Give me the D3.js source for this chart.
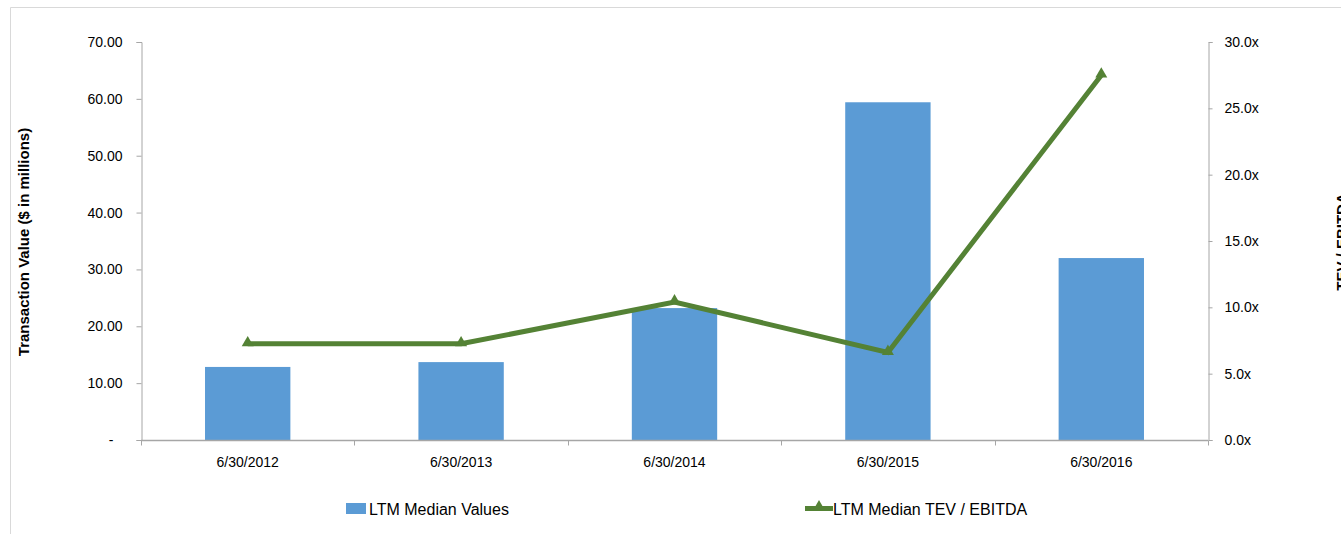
<!DOCTYPE html>
<html>
<head>
<meta charset="utf-8">
<script src="https://cdn.jsdelivr.net/npm/d3@7"></script>
<style>
  html, body { margin: 0; padding: 0; background: #fff; }
  svg { display: block; font-family: "Liberation Sans", Arial, sans-serif; }
</style>
</head>
<body>
<svg id="chart" width="1341" height="534"></svg>
<script>
// Period labels (LTM as of each date)
const categories = ["6/30/2012", "6/30/2013", "6/30/2014", "6/30/2015", "6/30/2016"];
// LTM median transaction values, $ millions (left axis)
const medianValues = [12.85, 13.7, 23.2, 59.4, 32.0];
// LTM median TEV / EBITDA multiples (right axis)
const tevEbitda = [7.25, 7.25, 10.4, 6.6, 27.5];
// Axis ticks
const leftTicks = [0, 10, 20, 30, 40, 50, 60, 70];
const rightTicks = [0, 5, 10, 15, 20, 25, 30];
const seriesNames = ["LTM Median Values", "LTM Median TEV / EBITDA"];

const barColor = "#5b9bd5";
const lineColor = "#548235";
const axisColor = "#a6a6a6";

const svg = d3.select("#chart");

// Frame lines of the chart area
svg.append("line").attr("x1", 10.5).attr("y1", 7.5).attr("x2", 1341).attr("y2", 7.5)
  .attr("stroke", "#d9d9d9");
svg.append("line").attr("x1", 10.5).attr("y1", 7.5).attr("x2", 10.5).attr("y2", 534)
  .attr("stroke", "#d9d9d9");

const plot = { left: 141, right: 1208, top: 42, bottom: 440 };

const x = d3.scaleBand().domain(categories)
  .range([plot.left, plot.right]).paddingInner(0.6).paddingOuter(0.3);
const yL = d3.scaleLinear().domain([0, 70]).range([plot.bottom, plot.top]);
const yR = d3.scaleLinear().domain([0, 30]).range([plot.bottom, plot.top]);

// Bars
svg.append("g").selectAll("rect").data(medianValues).join("rect")
  .attr("x", (d, i) => x(categories[i]))
  .attr("width", x.bandwidth())
  .attr("y", d => yL(d))
  .attr("height", d => yL(0) - yL(d))
  .attr("fill", barColor);

// Left axis
const leftAxis = svg.append("g").attr("transform", `translate(${plot.left + 0.5},0)`)
  .call(d3.axisLeft(yL).tickValues(leftTicks).tickSize(5).tickPadding(14)
    .tickFormat(d => d === 0 ? "-" : d3.format(".2f")(d)));
leftAxis.selectAll("path, line").attr("stroke", axisColor);
leftAxis.selectAll("text").attr("font-size", 14).attr("fill", "#000")
  .attr("font-family", "'Liberation Sans', Arial, sans-serif")
  .filter(d => d === 0).attr("dx", -9);

// Right axis
const rightAxis = svg.append("g").attr("transform", `translate(${plot.right + 0.5},0)`)
  .call(d3.axisRight(yR).tickValues(rightTicks).tickSize(4).tickPadding(12)
    .tickFormat(d => d3.format(".1f")(d) + "x"));
rightAxis.selectAll("path, line").attr("stroke", axisColor);
rightAxis.selectAll("text").attr("font-size", 14).attr("fill", "#000")
  .attr("font-family", "'Liberation Sans', Arial, sans-serif");

// Category axis with ticks on band boundaries
const xAxisG = svg.append("g").attr("transform", `translate(0,${plot.bottom + 0.5})`);
xAxisG.append("line").attr("x1", plot.left).attr("x2", plot.right)
  .attr("stroke", axisColor).attr("stroke-width", 1.5);
const step = x.step();
const bounds = d3.range(categories.length + 1).map(i => plot.left + i * step);
xAxisG.selectAll("line.tick").data(bounds).join("line").attr("class", "tick")
  .attr("x1", d => Math.round(d) + 0.5).attr("x2", d => Math.round(d) + 0.5)
  .attr("y1", 0).attr("y2", 5).attr("stroke", axisColor);
xAxisG.selectAll("text").data(categories).join("text")
  .attr("x", d => x(d) + x.bandwidth() / 2)
  .attr("y", 26)
  .attr("text-anchor", "middle")
  .attr("font-size", 14).attr("fill", "#000")
  .text(d => d);

// Multiple line with triangle markers
const line = d3.line().x((d, i) => x(categories[i]) + x.bandwidth() / 2).y(d => yR(d));
svg.append("path").datum(tevEbitda).attr("d", line)
  .attr("fill", "none").attr("stroke", lineColor).attr("stroke-width", 5)
  .attr("stroke-linejoin", "miter");
const tri = d3.symbol().type(d3.symbolTriangle).size(62);
svg.append("g").selectAll("path").data(tevEbitda).join("path")
  .attr("d", tri)
  .attr("transform", (d, i) => `translate(${x(categories[i]) + x.bandwidth() / 2},${yR(d) - 1})`)
  .attr("fill", lineColor);

// Axis titles
svg.append("text")
  .attr("transform", `translate(29,${(plot.top + plot.bottom) / 2 + 1}) rotate(-90)`)
  .attr("text-anchor", "middle").attr("font-size", 15).attr("font-weight", "bold")
  .attr("fill", "#000").text("Transaction Value ($ in millions)");
svg.append("text")
  .attr("transform", `translate(1347,242) rotate(-90)`)
  .attr("text-anchor", "middle").attr("font-size", 15).attr("font-weight", "bold")
  .attr("fill", "#000").text("TEV / EBITDA");

// Legend
const legend = svg.append("g");
legend.append("rect").attr("x", 346).attr("y", 503).attr("width", 20).attr("height", 11)
  .attr("fill", barColor);
legend.append("text").attr("x", 369).attr("y", 515).attr("font-size", 16)
  .attr("fill", "#000").text(seriesNames[0]);
legend.append("line").attr("x1", 805).attr("x2", 833).attr("y1", 508.5).attr("y2", 508.5)
  .attr("stroke", lineColor).attr("stroke-width", 5);
legend.append("path").attr("d", tri).attr("transform", "translate(819,507)").attr("fill", lineColor);
legend.append("text").attr("x", 833).attr("y", 515).attr("font-size", 16)
  .attr("fill", "#000").text(seriesNames[1]);
</script>
</body>
</html>
